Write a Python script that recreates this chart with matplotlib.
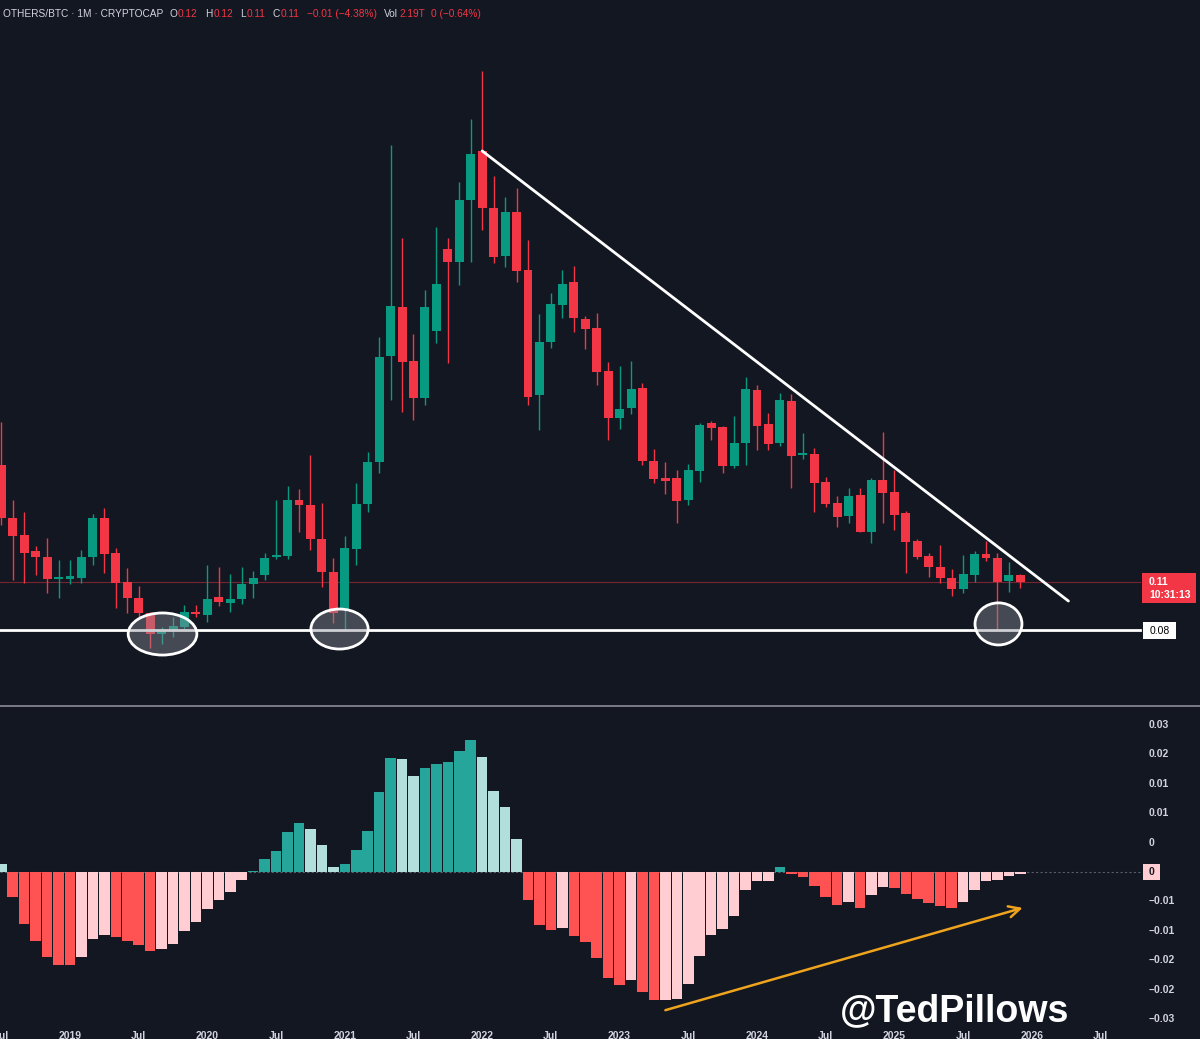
import matplotlib
matplotlib.use("Agg")
import matplotlib.pyplot as plt
from matplotlib.patches import Ellipse, Rectangle
from matplotlib.lines import Line2D
from matplotlib.transforms import blended_transform_factory
import numpy as np
import pandas as pd

plt.rcParams['font.family'] = ['Liberation Sans', 'DejaVu Sans']

# ---------------- data (monthly OTHERS/BTC, Jul 2018 .. Dec 2025) ----------------
months = pd.date_range("2018-07-01", "2025-12-01", freq="MS")

opens = [0.1831, 0.1500, 0.1394, 0.1294, 0.1256, 0.1119,
         0.1119, 0.1125, 0.1256, 0.1500, 0.1281, 0.1100, 0.1000, 0.0906, 0.0775, 0.0800, 0.0819, 0.0913,
         0.0894, 0.1006, 0.0969, 0.0994, 0.1088, 0.1144, 0.1256, 0.1263, 0.1613, 0.1581, 0.1369, 0.1163,
         0.0925, 0.1306, 0.1588, 0.1850, 0.2513, 0.2819, 0.2481, 0.2250, 0.2669, 0.3181, 0.3100, 0.3488,
         0.3794, 0.3438, 0.3138, 0.3413, 0.3050, 0.2269, 0.2600, 0.2831, 0.2975, 0.2744, 0.2688, 0.2419,
         0.2125, 0.2188, 0.2313, 0.1856, 0.1750, 0.1750, 0.1613, 0.1794, 0.2094, 0.2069, 0.1825, 0.1969,
         0.2300, 0.2088, 0.1969, 0.2231, 0.1894, 0.1900, 0.1725, 0.1594, 0.1513, 0.1644, 0.1413, 0.1738,
         0.1663, 0.1531, 0.1356, 0.1263, 0.1194, 0.1125, 0.1056, 0.1144, 0.1275, 0.1250, 0.1106, 0.1144]
highs = [0.2100, 0.1612, 0.1538, 0.1325, 0.1375, 0.1238,
         0.1238, 0.1300, 0.1525, 0.1563, 0.1313, 0.1188, 0.1075, 0.0913, 0.0819, 0.0881, 0.0956, 0.0956,
         0.1206, 0.1194, 0.1150, 0.1194, 0.1169, 0.1281, 0.1612, 0.1700, 0.1681, 0.1894, 0.1594, 0.1250,
         0.1388, 0.1719, 0.1913, 0.2631, 0.3831, 0.3250, 0.2650, 0.2925, 0.3319, 0.3250, 0.3600, 0.3994,
         0.4294, 0.3638, 0.3506, 0.3563, 0.3238, 0.2775, 0.2906, 0.3050, 0.3075, 0.2763, 0.2781, 0.2475,
         0.2450, 0.2481, 0.2344, 0.1931, 0.1850, 0.1800, 0.1838, 0.2094, 0.2106, 0.2075, 0.2138, 0.2381,
         0.2331, 0.2156, 0.2281, 0.2275, 0.2031, 0.1938, 0.1756, 0.1638, 0.1688, 0.1688, 0.1750, 0.2038,
         0.1800, 0.1544, 0.1369, 0.1281, 0.1331, 0.1181, 0.1269, 0.1294, 0.1356, 0.1281, 0.1225, 0.1150]
lows = [0.1456, 0.1113, 0.1094, 0.1144, 0.1031, 0.1000,
        0.1088, 0.1094, 0.1206, 0.1156, 0.0938, 0.0906, 0.0875, 0.0688, 0.0713, 0.0756, 0.0800, 0.0881,
        0.0850, 0.0950, 0.0913, 0.0963, 0.1000, 0.1113, 0.1244, 0.1244, 0.1413, 0.1300, 0.1069, 0.0844,
        0.0800, 0.1206, 0.1538, 0.1781, 0.2238, 0.2163, 0.2113, 0.2206, 0.2594, 0.2469, 0.2956, 0.3100,
        0.3300, 0.3094, 0.3069, 0.2975, 0.2206, 0.2050, 0.2563, 0.2750, 0.2663, 0.2556, 0.2331, 0.1988,
        0.2056, 0.2150, 0.1831, 0.1719, 0.1650, 0.1469, 0.1581, 0.1725, 0.1988, 0.1781, 0.1813, 0.1831,
        0.1925, 0.1925, 0.1950, 0.1688, 0.1869, 0.1538, 0.1569, 0.1444, 0.1469, 0.1410, 0.1344, 0.1469,
        0.1425, 0.1156, 0.1244, 0.1131, 0.1094, 0.1013, 0.1031, 0.1100, 0.1231, 0.0800, 0.1038, 0.1063]
closes = [0.1500, 0.1388, 0.1281, 0.1256, 0.1119, 0.1125,
          0.1138, 0.1256, 0.1500, 0.1275, 0.1094, 0.1000, 0.0906, 0.0775, 0.0794, 0.0825, 0.0913, 0.0900,
          0.0994, 0.0975, 0.0994, 0.1088, 0.1125, 0.1250, 0.1269, 0.1613, 0.1581, 0.1369, 0.1163, 0.0906,
          0.1313, 0.1588, 0.1850, 0.2506, 0.2825, 0.2475, 0.2250, 0.2819, 0.2963, 0.3100, 0.3488, 0.3775,
          0.3438, 0.3131, 0.3413, 0.3044, 0.2256, 0.2600, 0.2838, 0.2963, 0.2750, 0.2681, 0.2413, 0.2125,
          0.2181, 0.2306, 0.1856, 0.1744, 0.1731, 0.1606, 0.1800, 0.2081, 0.2063, 0.1825, 0.1969, 0.2306,
          0.2075, 0.1963, 0.2238, 0.1888, 0.1900, 0.1719, 0.1588, 0.1506, 0.1638, 0.1413, 0.1738, 0.1656,
          0.1519, 0.1350, 0.1256, 0.1194, 0.1125, 0.1056, 0.1150, 0.1275, 0.1250, 0.1100, 0.1144, 0.1100]

macd_hist = [0.00143, -0.00425, -0.00878, -0.01167, -0.01446, -0.01575,
             -0.01587, -0.01451, -0.01133, -0.01065, -0.01111, -0.01179, -0.01241, -0.01337, -0.01303,
             -0.01218, -0.01009, -0.00855,
             -0.00634, -0.00469, -0.00340, -0.00141, 0.00022, 0.00221, 0.00352, 0.00680, 0.00833,
             0.00731, 0.00464, 0.00080,
             0.00136, 0.00369, 0.00692, 0.01361, 0.01939, 0.01922, 0.01628, 0.01769, 0.01844,
             0.01871, 0.02065, 0.02240,
             0.01956, 0.01384, 0.01105, 0.00561, -0.00481, -0.00906, -0.00991, -0.00952, -0.01083,
             -0.01190, -0.01463, -0.01803,
             -0.01917, -0.01832, -0.02046, -0.02182, -0.02172, -0.02155, -0.01905, -0.01423, -0.01066,
             -0.00969, -0.00743, -0.00301,
             -0.00158, -0.00148, 0.00085, -0.00034, -0.00090, -0.00243, -0.00430, -0.00556, -0.00510,
             -0.00612, -0.00386, -0.00260,
             -0.00269, -0.00369, -0.00459, -0.00532, -0.00583, -0.00612, -0.00510, -0.00301, -0.00158,
             -0.00141, -0.00063, -0.00029]
hist_before_first = 0.0025

support_level = 0.08
last_price_label = "0.11"
countdown_label = "10:31:13"
support_label = "0.08"
macd_tick_values = [0.025, 0.02, 0.015, 0.01, 0.005, -0.005, -0.01, -0.015, -0.02, -0.025]
macd_tick_labels = ["0.03", "0.02", "0.01", "0.01", "0", "−0.01", "−0.01", "−0.02", "−0.02", "−0.03"]

# drawn annotations (month index from Jan 2019, price / macd value)
trend_start_idx = 42                # Jan 2022 candle (trendline starts at its open)
trend_end = (87.2, 0.0981)
circles = [((8.08, 0.0775), 6.0, 0.0263),
           ((23.54, 0.0806), 5.0, 0.0250),
           ((81.09, 0.0838), 4.1, 0.0263)]
arrow_start = (52.0, -0.0235)
arrow_end = (83.2, -0.0061)

# header pieces: text, gap before it (px), colour key
header = [("OTHERS/BTC · 1M · CRYPTOCAP", 0, 'w'), ("O", 6, 'w'), ("0.12", 1, 'r'),
          ("H", 7, 'w'), ("0.12", 1, 'r'), ("L", 7, 'w'), ("0.11", 1, 'r'),
          ("C", 7, 'w'), ("0.11", 1, 'r'), ("−0.01 (−4.38%)", 8, 'r'),
          ("Vol", 7, 'w'), ("2.19T", 1, 'r'), ("0 (−0.64%)", 6, 'r')]

# ---------------- figure ----------------
W, H = 1200, 1039
BG = '#131722'
UP, DOWN = '#089981', '#F23645'
TXT = '#D1D4DC'
fig = plt.figure(figsize=(W / 100, H / 100), dpi=100)
fig.patch.set_facecolor(BG)

def fx(px):
    return px / W

def fy(py):
    return 1 - py / H

PX_PER_MONTH = 11.45
X0_PX = 70
xlim = (-X0_PX / PX_PER_MONTH, (W - X0_PX) / PX_PER_MONTH)
x = np.array([(d.year - 2019) * 12 + d.month - 1 for d in months])

ax = fig.add_axes([0, fy(706), 1, 706 / H])
axm = fig.add_axes([0, fy(1027), 1, (1027 - 707) / H])
for a in (ax, axm):
    a.set_facecolor(BG)
    a.set_xlim(*xlim)
    for s in a.spines.values():
        s.set_visible(False)
ax.set_ylim(0.0325, 0.47375)
ax.set_xticks([])
ax.set_yticks([])
axm.set_ylim(-(1027 - 872) / 5880, (872 - 707) / 5880)
axm.set_yticks([])

# candles
o, h, l, c = map(np.array, (opens, highs, lows, closes))
cc = np.where(c >= o, UP, DOWN)
ax.vlines(x, l, h, colors=cc, lw=1.0, zorder=3)
ax.bar(x, np.clip(np.abs(c - o), 0.0012, None), bottom=np.minimum(o, c), width=0.78,
       color=cc, linewidth=0, zorder=4)

# current price line and support line
ax.axhline(c[-1], xmin=0, xmax=fx(1140), color=DOWN, alpha=0.45, lw=0.8, zorder=2)
ax.axhline(support_level, xmin=0, xmax=fx(1140), color='white', lw=2.0, zorder=6)

# trendline
ax.plot([x[trend_start_idx], trend_end[0]], [o[trend_start_idx], trend_end[1]],
        color='white', lw=2.0, zorder=6, solid_capstyle='round')

# circles
for (cx, cy), w, hh in circles:
    ax.add_patch(Ellipse((cx, cy), w, hh, facecolor=(0.55, 0.56, 0.60, 0.42),
                         edgecolor='white', lw=2.0, zorder=7))

# MACD histogram
hv = np.array(macd_hist)
prev = np.concatenate([[hist_before_first], hv[:-1]])
hc = np.where(hv >= 0, np.where(hv >= prev, '#26A69A', '#B2DFDB'),
              np.where(hv < prev, '#FF5252', '#FFCDD2'))
axm.axhline(0, xmin=0, xmax=fx(1140), color='#787B86', ls=(0, (2, 2)), lw=0.8, alpha=0.7, zorder=1)
axm.bar(x, hv, width=0.92, color=hc, linewidth=0, zorder=3)

axm.annotate('', xy=arrow_end, xytext=arrow_start,
             arrowprops=dict(arrowstyle='->', color='#F0A41E', lw=1.8, mutation_scale=20,
                             shrinkA=0, shrinkB=0), zorder=8)

# x ticks
tick_pos = list(range(-6, 91, 6))
tick_lab = [("Jul" if t % 12 else str(2019 + t // 12)) for t in tick_pos]
axm.set_xticks(tick_pos)
axm.set_xticklabels(tick_lab)
axm.tick_params(axis='x', length=0, pad=3, colors=TXT, labelsize=7.5)
for t in axm.get_xticklabels():
    t.set_fontweight('bold')

# MACD scale labels
tr = blended_transform_factory(axm.transAxes, axm.transData)
for v, lab in zip(macd_tick_values, macd_tick_labels):
    axm.text(fx(1149), v, lab, transform=tr, color=TXT, fontsize=7.5, fontweight='bold',
             ha='left', va='center')
fig.add_artist(Rectangle((fx(1143), fy(880)), 17 / W, 16 / H, transform=fig.transFigure,
                         facecolor='#FFCDD2', edgecolor='none'))
fig.text(fx(1151.5), fy(872), "0", color=BG, fontsize=7.5, fontweight='bold', ha='center', va='center')

# price badges
fig.add_artist(Rectangle((fx(1142), fy(603)), 54 / W, 30 / H, transform=fig.transFigure,
                         facecolor=DOWN, edgecolor='none'))
fig.text(fx(1149), fy(582), last_price_label, color='white', fontsize=7.5, fontweight='bold', va='center')
fig.text(fx(1149), fy(595), countdown_label, color='white', fontsize=7.5, fontweight='bold', va='center')
fig.add_artist(Rectangle((fx(1143), fy(639)), 33 / W, 17 / H, transform=fig.transFigure,
                         facecolor='white', edgecolor='none'))
fig.text(fx(1159.5), fy(630.5), support_label, color='black', fontsize=7.5, ha='center', va='center')

# pane separator
fig.add_artist(Line2D([0, 1], [fy(706), fy(706)], transform=fig.transFigure, color='#8A8D96', lw=1.2))

# header (pieces chained left to right)
prev_t = None
for txt, gap, col in header:
    kw = dict(color=(TXT if col == 'w' else DOWN), fontsize=7.3, va='center', ha='left')
    if prev_t is None:
        prev_t = fig.text(fx(3), fy(14), txt, **kw)
    else:
        prev_t = ax.annotate(txt, xy=(1, 0.5), xycoords=prev_t, xytext=(gap, 0),
                             textcoords='offset pixels', annotation_clip=False, **kw)

# watermark
fig.text(fx(840), fy(1021), "@TedPillows", color='white', fontsize=27, fontweight='bold',
         ha='left', va='baseline')

fig.savefig("out.png", dpi=100, facecolor=BG)
